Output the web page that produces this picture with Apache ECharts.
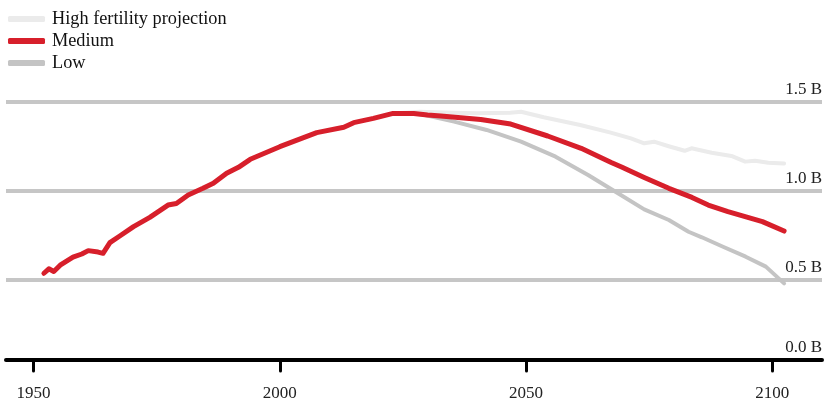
<!DOCTYPE html>
<html>
<head>
<meta charset="utf-8">
<script src="https://cdn.jsdelivr.net/npm/echarts@6/dist/echarts.min.js"></script>
<style>html,body{margin:0;padding:0;background:#fff;}#c{width:825px;height:404px;}</style>
</head>
<body>
<div id="c"></div>
<script>
const seriesNames = ['High fertility projection', 'Medium', 'Low'];
const xTicks = [1950, 2000, 2050, 2100];
const yTicks = [0, 0.5, 1.0, 1.5];

const mediumYears = [1952.1,1953.1,1954.1,1955.4,1958,1959.8,1961.1,1963.1,1964.1,1965.5,1967.5,1970.3,1973.6,1977.3,1979,1981.4,1984.4,1986.5,1989.2,1991.6,1994,2000,2007.5,2013,2015,2019,2023,2027.2,2030,2032.7,2040.8,2046.9,2054.4,2061.2,2067.3,2069.4,2074,2079,2083.7,2087,2091,2094.5,2098,2102.4];
const mediumValues = [0.538,0.563,0.548,0.583,0.628,0.646,0.665,0.657,0.65,0.71,0.747,0.80,0.852,0.921,0.93,0.978,1.015,1.043,1.10,1.133,1.178,1.249,1.328,1.358,1.384,1.408,1.436,1.436,1.427,1.421,1.402,1.376,1.309,1.24,1.16,1.135,1.076,1.015,0.964,0.921,0.884,0.856,0.828,0.775];

const highYears = [2023,2028.4,2035,2040,2046.8,2049,2053.6,2061,2067.2,2071.3,2074,2076,2078.8,2082.2,2083.6,2087.7,2091.7,2094.5,2096.5,2099.2,2102.4];
const highValues = [1.436,1.445,1.44,1.437,1.44,1.445,1.414,1.371,1.328,1.296,1.268,1.277,1.253,1.226,1.24,1.215,1.197,1.165,1.17,1.159,1.155];

const lowYears = [2023,2027,2029,2035.4,2042,2049,2056,2062.6,2068.5,2074,2079,2083,2085.7,2090,2094.6,2098.7,2102.4];
const lowValues = [1.436,1.436,1.43,1.39,1.343,1.277,1.193,1.09,0.99,0.897,0.837,0.771,0.74,0.687,0.631,0.575,0.481];

const zip = (xs, ys) => xs.map((x, i) => [x, ys[i]]);

const FONT = 'Liberation Serif';
const chart = echarts.init(document.getElementById('c'), null, {renderer: 'canvas'});
chart.setOption({
  animation: false,
  backgroundColor: '#fff',
  legend: {
    orient: 'vertical', left: 8, top: 10, padding: 0,
    itemGap: 4, itemWidth: 37, itemHeight: 6, icon: 'roundRect',
    data: seriesNames,
    textStyle: {fontFamily: FONT, fontSize: 18.3, color: '#111', lineHeight: 18, padding: [0,0,0,2]}
  },
  grid: {left: 6, right: 2, top: 102, bottom: 35, containLabel: false},
  xAxis: {
    type: 'value', min: 1944.4, max: 2110.1, offset: -9,
    splitLine: {show: false},
    axisLine: {show: true, lineStyle: {color: '#000', width: 4, cap: 'round'}},
    axisTick: {show: true, customValues: xTicks, length: 11, lineStyle: {color: '#000', width: 3, cap: 'round'}},
    axisLabel: {customValues: xTicks, margin: 25, fontFamily: FONT, fontSize: 17, color: '#222', formatter: v => String(v)}
  },
  yAxis: {
    type: 'value', min: 0, max: 1.5, interval: 0.5, position: 'right',
    axisLine: {show: false}, axisTick: {show: false},
    splitLine: {show: true, lineStyle: {color: ['rgba(0,0,0,0)', '#c6c6c6', '#c6c6c6', '#c6c6c6'], width: 4}},
    axisLabel: {
      inside: true, margin: 0, verticalAlign: 'bottom', align: 'right',
      fontFamily: FONT, fontSize: 17, color: '#222',
      formatter: v => v === 0 ? '{z|0.0 B}' : '{a|' + v.toFixed(1) + ' B}',
      rich: {
        a: {fontFamily: FONT, fontSize: 17, color: '#222', padding: [0,0,4,0]},
        z: {fontFamily: FONT, fontSize: 17, color: '#222', padding: [0,0,13,0]}
      }
    }
  },
  series: [
    {name: seriesNames[0], type: 'line', data: zip(highYears, highValues), showSymbol: false, symbol: 'none',
     color: '#ebebeb', lineStyle: {width: 4, color: '#ebebeb', cap: 'round', join: 'round'}, z: 2},
    {name: seriesNames[2], type: 'line', data: zip(lowYears, lowValues), showSymbol: false, symbol: 'none',
     color: '#c4c4c4', lineStyle: {width: 4, color: '#c4c4c4', cap: 'round', join: 'round'}, z: 3},
    {name: seriesNames[1], type: 'line', data: zip(mediumYears, mediumValues), showSymbol: false, symbol: 'none',
     color: '#d71f2b', lineStyle: {width: 5, color: '#d71f2b', cap: 'round', join: 'round'}, z: 4}
  ]
});
</script>
</body>
</html>
